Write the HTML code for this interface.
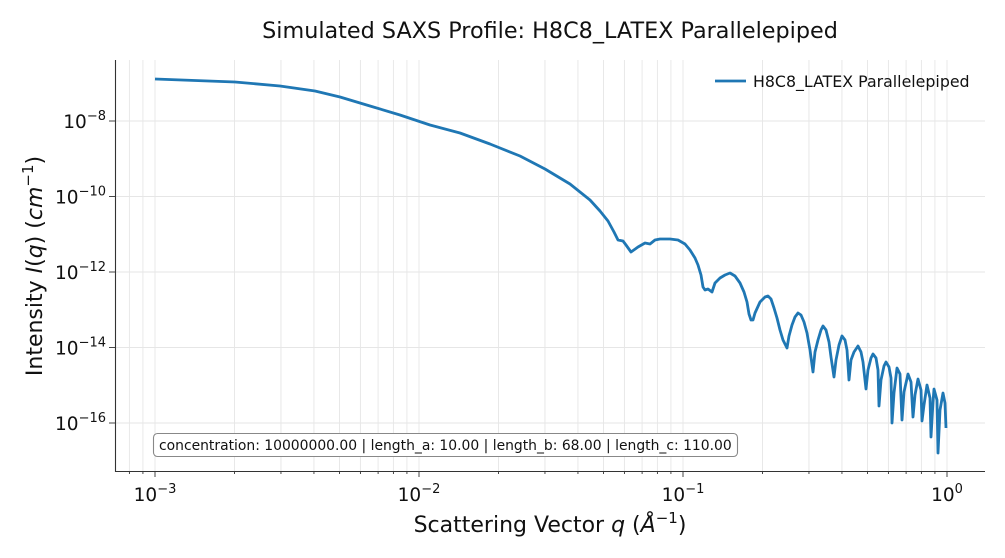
<!DOCTYPE html>
<html><head><meta charset="utf-8"><style>
html,body{margin:0;padding:0;background:#fff;}
svg{display:block;font-family:"DejaVu Sans","Liberation Sans",sans-serif;}
</style></head><body>
<svg id="s" width="1005" height="558" viewBox="0 0 1005 558" xmlns="http://www.w3.org/2000/svg">
<rect width="1005" height="558" fill="#fff"/>
<g id="grid" stroke="#e6e6e6" stroke-width="0.9"></g>
<g id="ticks" stroke="#333" stroke-width="0.9"></g>
<polyline fill="none" stroke="#1f77b4" stroke-width="2.8" stroke-linejoin="round" points="
155,79 235,82 280,86 315,91 340,97 370,106 400,115 430,125 460,133 490,144 520,156 545,169 570,184 590,200 600,211 608,221 614,232 618,240 623,241 626,245 631,252 638,247 645,243 650,244 655,240 660,239 670,239 678,240 685,244 690,250 695,258 698,265 701,275 703,287 705,290 708,289 712,292 715,283 720,278 725,275 730,273 735,276 740,283 744,292 747,302 749,314 751,320 753,320 755,313 760,302 765,297 768,296 771,299 774,308 777,318 780,330 783,340 787,348 789,336 792,325 795,317 798,313 801,315 804,322 807,333 810,350 813,372 815,352 818,340 821,330 823,326 826,330 829,342 831,357 834,377 836,360 839,345 842,336 845,340 847,350 849,380 851,360 854,352 858,346 861,352 863,362 866,389 868,370 871,358 873,354 876,358 878,370 879,406 881,380 884,366 886,362 889,367 891,378 892,423 894,393 897,368 900,374 902,420 904,392 908,374 911,382 913,417 915,395 918,379 921,390 922,421 924,405 927,385 930,398 931,437 933,402 934,389 937,400 938,453 940,410 943,393 945,403 946,428"/>
<g stroke="#333" stroke-width="1.1"><line x1="115.5" y1="60" x2="115.5" y2="472"/><line x1="115" y1="471.5" x2="985" y2="471.5"/></g>
<g id="labels" font-size="18.5" fill="#111"></g>
<text x="550" y="38" font-size="22.3" text-anchor="middle" fill="#111">Simulated SAXS Profile: H8C8_LATEX Parallelepiped</text>
<text x="550" y="532" font-size="22" text-anchor="middle" fill="#111">Scattering Vector <tspan font-style="italic">q</tspan> (<tspan font-style="italic">Å</tspan><tspan font-size="15" dy="-9">−1</tspan><tspan dy="9">)</tspan></text>
<text transform="translate(42,266) rotate(-90)" font-size="22" text-anchor="middle" fill="#111">Intensity <tspan font-style="italic">I</tspan>(<tspan font-style="italic">q</tspan>) (<tspan font-style="italic">cm</tspan><tspan font-size="15" dy="-9">−1</tspan><tspan dy="9">)</tspan></text>
<line x1="715" y1="81" x2="746" y2="81" stroke="#1f77b4" stroke-width="2.8"/>
<text x="753" y="87" font-size="15.8" fill="#111">H8C8_LATEX Parallelepiped</text>
<rect x="153.5" y="433.5" width="584" height="23" rx="4" fill="#fff" stroke="#888" stroke-width="1.1"/>
<text x="159" y="450" font-size="13.9" fill="#111">concentration: 10000000.00 | length_a: 10.00 | length_b: 68.00 | length_c: 110.00</text>
</svg>
<script>
var ns="http://www.w3.org/2000/svg",g=document.getElementById('grid'),t=document.getElementById('ticks'),L=document.getElementById('labels');
function ln(p,a,b,c,d){var e=document.createElementNS(ns,'line');e.setAttribute('x1',a);e.setAttribute('y1',b);e.setAttribute('x2',c);e.setAttribute('y2',d);p.appendChild(e);}
function X(l){return 155+(l+3)*264;}
for(var dc=-4;dc<=0;dc++){for(var m=1;m<10;m++){var x=X(dc+Math.log10(m));if(x<115||x>985)continue;ln(g,x,60,x,471);ln(t,x,471,x,m==1?477:474);}}
var sup=["−3","−2","−1","0"];
for(var i=0;i<4;i++){var x=X(-3+i);var e=document.createElementNS(ns,'text');e.setAttribute('x',x);e.setAttribute('y',501);e.setAttribute('text-anchor','middle');e.innerHTML='10<tspan font-size="13" dy="-8">'+sup[i]+'</tspan>';L.appendChild(e);}
for(var k=0;k<5;k++){var y=121+k*75.5;ln(g,115,y,985,y);ln(t,109,y,115,y);var e=document.createElementNS(ns,'text');e.setAttribute('x',106);e.setAttribute('y',y+7);e.setAttribute('text-anchor','end');e.innerHTML='10<tspan font-size="13" dy="-8">−'+(8+2*k)+'</tspan>';L.appendChild(e);}
</script>
</body></html>
